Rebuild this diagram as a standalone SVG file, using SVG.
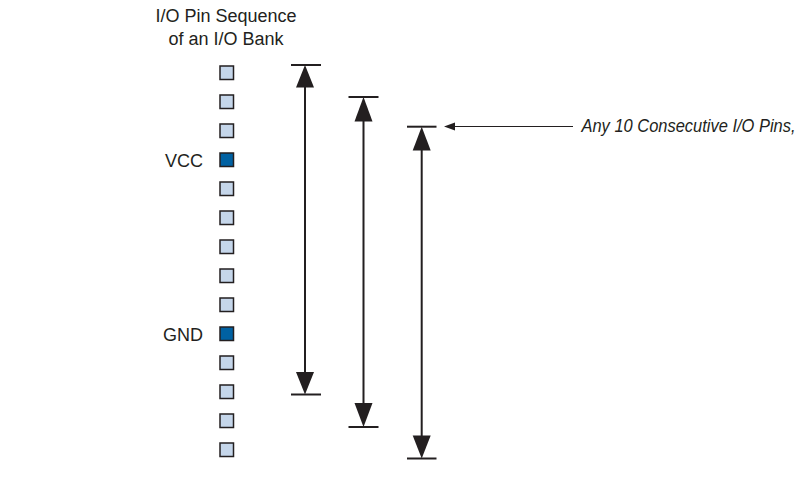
<svg xmlns="http://www.w3.org/2000/svg" width="804" height="485" viewBox="0 0 804 485">
<style>
.t{font-family:"Liberation Sans",Arial,sans-serif;font-size:18px;fill:#231f20}
.pin{fill:#c5d6ea;stroke:#231f20;stroke-width:1.5}
.pwr{fill:#0061a2;stroke:#231f20;stroke-width:1.5}
.dim{stroke:#231f20;stroke-width:2;fill:none}
.head{fill:#231f20}
</style>
<rect width="804" height="485" fill="#fff"/>
<g id="title">
<text class="t" x="226" y="22" text-anchor="middle">I/O Pin Sequence</text>
<text class="t" x="226" y="45" text-anchor="middle">of an I/O Bank</text>
</g>
<g id="pins">
<rect class="pin" x="220" y="66" width="13.5" height="13.5"/>
<rect class="pin" x="220" y="95" width="13.5" height="13.5"/>
<rect class="pin" x="220" y="124" width="13.5" height="13.5"/>
<rect class="pwr" x="220" y="153" width="13.5" height="13.5"/>
<rect class="pin" x="220" y="182" width="13.5" height="13.5"/>
<rect class="pin" x="220" y="211" width="13.5" height="13.5"/>
<rect class="pin" x="220" y="240" width="13.5" height="13.5"/>
<rect class="pin" x="220" y="269" width="13.5" height="13.5"/>
<rect class="pin" x="220" y="298" width="13.5" height="13.5"/>
<rect class="pwr" x="220" y="327" width="13.5" height="13.5"/>
<rect class="pin" x="220" y="356" width="13.5" height="13.5"/>
<rect class="pin" x="220" y="385" width="13.5" height="13.5"/>
<rect class="pin" x="220" y="414" width="13.5" height="13.5"/>
<rect class="pin" x="220" y="443" width="13.5" height="13.5"/>
</g>
<g id="vcc"><text class="t" x="203" y="167" text-anchor="end">VCC</text></g>
<g id="gnd"><text class="t" x="203" y="341" text-anchor="end">GND</text></g>
<g id="connectors">
<g id="dim1">
<line class="dim" x1="291" y1="65" x2="321" y2="65"/>
<line class="dim" x1="291" y1="394.5" x2="321" y2="394.5"/>
<line class="dim" x1="305" y1="80" x2="305" y2="380"/>
<polygon class="head" points="305,65 296,87.5 314,87.5"/>
<polygon class="head" points="305,394.5 296,372 314,372"/>
</g>
<g id="dim2">
<line class="dim" x1="348.5" y1="97" x2="378.5" y2="97"/>
<line class="dim" x1="348.5" y1="427" x2="378.5" y2="427"/>
<line class="dim" x1="363.5" y1="112" x2="363.5" y2="412"/>
<polygon class="head" points="363.5,97 354.5,121.5 372.5,121.5"/>
<polygon class="head" points="363.5,427 354.5,403 372.5,403"/>
</g>
<g id="dim3">
<line class="dim" x1="407" y1="126.7" x2="436.5" y2="126.7"/>
<line class="dim" x1="407" y1="458.5" x2="436.5" y2="458.5"/>
<line class="dim" x1="421.7" y1="142" x2="421.7" y2="444"/>
<polygon class="head" points="421.7,126.7 412.7,150.5 430.7,150.5"/>
<polygon class="head" points="421.7,458.5 412.7,435.5 430.7,435.5"/>
</g>
<g id="pointer">
<line x1="452" y1="126.5" x2="573" y2="126.5" stroke="#231f20" stroke-width="1"/>
<polygon class="head" points="444,126.5 455,122.5 455,130.5"/>
</g>
</g>
<g id="label">
<text class="t" x="581.5" y="131.7" font-style="italic" textLength="214" lengthAdjust="spacingAndGlyphs">Any 10 Consecutive I/O Pins,</text>
</g>
</svg>
